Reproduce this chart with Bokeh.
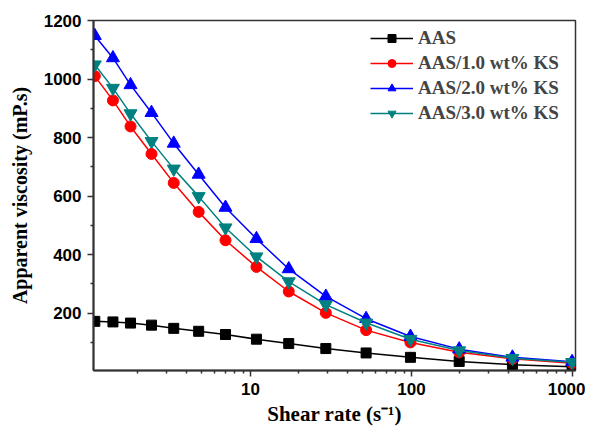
from bokeh.plotting import figure
from bokeh.models import FixedTicker, NumeralTickFormatter, Range1d, Legend, LegendItem
from bokeh.embed import file_html
from bokeh.resources import INLINE

shear_rate = [1.08, 1.4, 1.8, 2.43, 3.34, 4.77, 7.0, 10.9, 17.3, 29.4, 52.3, 98.6, 198, 424, 995]
aas = [172, 170, 166, 159, 148, 138, 127, 111, 96, 79, 64, 49, 35, 24, 17]
ks10 = [1010, 927, 838, 744, 645, 546, 449, 358, 274, 201, 142, 100, 66, 44, 29]
ks20 = [1148, 1072, 980, 885, 780, 674, 561, 454, 351, 257, 181, 120, 77, 49, 34]
ks30 = [1049, 969, 882, 787, 693, 599, 492, 393, 308, 229, 167, 111, 72, 46, 32]

series_names = ["AAS", "AAS/1.0 wt% KS", "AAS/2.0 wt% KS", "AAS/3.0 wt% KS"]
y_major = [200, 400, 600, 800, 1000, 1200]
y_minor = [100, 300, 500, 700, 900, 1100]
x_major = [10, 100, 1000]
x_minor = [2, 3, 4, 5, 6, 7, 8, 9, 20, 30, 40, 50, 60, 70, 80, 90,
           200, 300, 400, 500, 600, 700, 800, 900]

W, H = 585, 428
p = figure(width=W, height=H, x_axis_type="log",
           x_range=Range1d(1.06, 1045), y_range=Range1d(4, 1200),
           output_backend="svg", toolbar_location=None,
           min_border_left=93, min_border_right=10, min_border_top=20, min_border_bottom=58)

p.xgrid.visible = False
p.ygrid.visible = False
p.outline_line_color = "#333333"
p.outline_line_width = 1.5

axis_col = "#333333"
for ax in (p.xaxis[0], p.yaxis[0]):
    ax.axis_line_color = axis_col
    ax.axis_line_width = 2
    ax.major_tick_line_color = axis_col
    ax.major_tick_line_width = 1.5
    ax.minor_tick_line_color = axis_col
    ax.minor_tick_line_width = 1.5
    ax.major_tick_out = 6
    ax.major_tick_in = 0
    ax.minor_tick_out = 3
    ax.minor_tick_in = 0
    ax.major_label_text_font = "Liberation Sans"
    ax.major_label_text_font_style = "bold"
    ax.major_label_text_font_size = "17px"
    ax.major_label_text_color = "black"
    ax.major_label_standoff = 6
    ax.axis_label_text_font = "Liberation Serif"
    ax.axis_label_text_font_style = "bold"
    ax.axis_label_text_font_size = "20px"
    ax.axis_label_text_color = "black"

p.xaxis.ticker = FixedTicker(ticks=x_major, minor_ticks=x_minor)
p.yaxis.ticker = FixedTicker(ticks=y_major, minor_ticks=y_minor)
p.xaxis.formatter = NumeralTickFormatter(format="0")
p.xaxis.axis_label = "Shear rate (s\u207b\u00b9)"
p.xaxis.axis_label_text_font_size = "21px"
p.xaxis.axis_label_standoff = 4
p.yaxis.axis_label = "Apparent viscosity (mP.s)"
p.yaxis.axis_label_standoff = 10

colors = ["black", "red", "blue", "#008080"]
markers = ["square", "circle", "triangle", "inverted_triangle"]
sizes = [10, 11, 13, 13]
data = [aas, ks10, ks20, ks30]
items = []
for name, ys, c, mk, sz in zip(series_names, data, colors, markers, sizes):
    ln = p.line(shear_rate, ys, line_color=c, line_width=1.5)
    sc = p.scatter(shear_rate, ys, marker=mk, size=sz, fill_color=c, line_color=c)
    items.append(LegendItem(label=name, renderers=[ln, sc]))

legend = Legend(items=items, location="top_right")
legend.border_line_alpha = 0
legend.background_fill_alpha = 0
legend.label_text_font = "Liberation Serif"
legend.label_text_font_style = "bold"
legend.label_text_font_size = "19px"
legend.label_width = 150
legend.glyph_width = 43
legend.glyph_height = 20
legend.spacing = 3
legend.label_standoff = 5
legend.margin = 1
legend.padding = 6
p.add_layout(legend)

open("out.html", "w").write(file_html(p, INLINE))
